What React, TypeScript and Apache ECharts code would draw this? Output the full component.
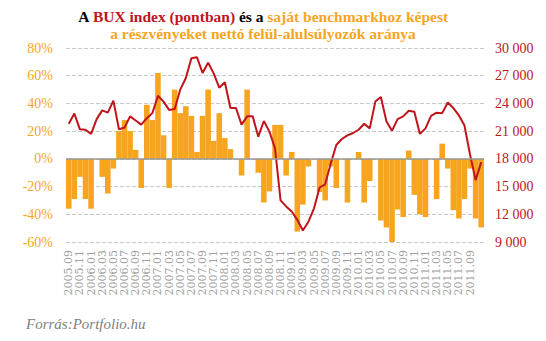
import React, { useEffect, useRef } from "react";
import * as echarts from "echarts";

const categories = [
  "2005.09","2005.10","2005.11","2005.12",
  "2006.01","2006.02","2006.03","2006.04","2006.05","2006.06","2006.07","2006.08","2006.09","2006.10","2006.11","2006.12",
  "2007.01","2007.02","2007.03","2007.04","2007.05","2007.06","2007.07","2007.08","2007.09","2007.10","2007.11","2007.12",
  "2008.01","2008.02","2008.03","2008.04","2008.05","2008.06","2008.07","2008.08","2008.09","2008.10","2008.11","2008.12",
  "2009.01","2009.02","2009.03","2009.04","2009.05","2009.06","2009.07","2009.08","2009.09","2009.10","2009.11","2009.12",
  "2010.01","2010.02","2010.03","2010.04","2010.05","2010.06","2010.07","2010.08","2010.09","2010.10","2010.11","2010.12",
  "2011.01","2011.02","2011.03","2011.04","2011.05","2011.06","2011.07","2011.08","2011.09","2011.10","2011.11",
];

// net over/underweight ratio, %
const netWeight = [
  -36, -29, -13, -29, -36, 0, -13, -25, -7, 20, 28, 20, 6.5, -21, 39,
  28, 62, 17, -21, 50, 33, 38, 31, 5, 31, 50, 13, 33, 15, 7,
  0, -12, 50, 0, -10, -31.5, -23.5, 24.5, 24.5, -12, 5, -52.5, -33, -5.5, 0,
  -24, -30, -5.5, -21, 0, -31.5, 0, 5, -31.5, -16, 0, -44.5, -49.5, -60, -36.5,
  -42, 6, -26, -40, -42, 0, -29, 11, -7, -37, -43, -29, -7, -43, -49.5,
];

// BUX index, points
const bux = [
  21800, 22900, 21200, 21150, 20700, 22300, 23250, 23000, 24300, 21200, 21400, 22600, 22150, 21700, 22400,
  22950, 24830, 24200, 23300, 23400, 25500, 26750, 28900, 29000, 27300, 28400, 27250, 25700, 26300, 23500,
  23500, 21700, 22600, 22600, 20400, 22100, 20950, 19150, 13500, 12850, 12300, 11400, 10250, 11200, 12650,
  14900, 15250, 17500, 19500, 20150, 20550, 20800, 21150, 21800, 21300, 24200, 24700, 22050, 21050, 22300,
  22600, 23200, 23100, 20700, 21300, 22650, 23000, 22950, 24100, 23500, 22700, 21600, 18450, 15700, 17650,
];

const ORANGE = "#F7A51F";
const RED = "#C0141B";
const TF = "bold 15.5px 'Liberation Serif'";

export default function App() {
  const ref = useRef<HTMLDivElement>(null);
  useEffect(() => {
    if (!ref.current) return;
    const chart = echarts.init(ref.current, null, { renderer: "svg" });
    chart.setOption({
      animation: false,
      backgroundColor: "#ffffff",
      grid: { left: 66, right: 62, top: 48, bottom: 99 },
      graphic: [
        {
          type: "text",
          x: 263,
          y: 8,
          style: {
            text:
              "{k|A }{r|BUX index (pontban)}{k| és a }{o|saját benchmarkhoz képest}\n{o|a részvényeket nettó felül-alulsúlyozók aránya}",
            align: "center",
            font: TF,
            lineHeight: 17,
            rich: {
              k: { fill: "#000000", font: TF, lineHeight: 17 },
              r: { fill: RED, font: TF, lineHeight: 17 },
              o: { fill: ORANGE, font: TF, lineHeight: 17 },
            },
          },
        },
        {
          type: "text",
          x: 26,
          y: 316,
          style: {
            text: "Forrás:Portfolio.hu",
            font: "italic 15px 'Liberation Serif'",
            fill: "#7f7f7f",
          },
        },
      ],
      xAxis: {
        type: "category",
        data: categories,
        boundaryGap: true,
        axisLine: { show: false },
        axisTick: { show: false },
        axisLabel: {
          rotate: 90,
          interval: (i: number) => i % 2 === 0 && i < 74,
          color: "#a0a0a0",
          fontFamily: "DejaVu Serif",
          fontSize: 11,
          margin: 8,
        },
        splitLine: { show: false },
      },
      yAxis: [
        {
          type: "value",
          min: -60,
          max: 80,
          interval: 20,
          axisLine: { show: false },
          axisTick: { show: false },
          axisLabel: {
            formatter: (v: number) => `${v}%`,
            color: ORANGE,
            fontFamily: "Liberation Serif",
            fontSize: 14,
            margin: 13,
          },
          splitLine: { lineStyle: { color: "#c8c8c8", type: "dashed", width: 1 } },
        },
        {
          type: "value",
          min: 9000,
          max: 30000,
          interval: 3000,
          axisLine: { show: false },
          axisTick: { show: false },
          axisLabel: {
            formatter: (v: number) =>
              String(v).replace(/\B(?=(\d{3})+(?!\d))/g, " "),
            color: RED,
            fontFamily: "Liberation Serif",
            fontSize: 14,
            margin: 11,
          },
          splitLine: { show: false },
        },
      ],
      series: [
        {
          type: "bar",
          data: netWeight,
          yAxisIndex: 0,
          barCategoryGap: "0%",
          itemStyle: { color: ORANGE },
          markLine: {
            silent: true,
            symbol: "none",
            label: { show: false },
            lineStyle: { color: "#999999", type: "solid", width: 1.5 },
            data: [{ yAxis: 0 }],
          },
        },
        {
          type: "line",
          data: bux,
          yAxisIndex: 1,
          symbol: "none",
          lineStyle: { color: RED, width: 2 },
          itemStyle: { color: RED },
          z: 3,
        },
      ],
    });
    return () => chart.dispose();
  }, []);
  return (
    <div
      ref={ref}
      style={{ position: "fixed", left: 0, top: 0, width: 546, height: 341 }}
    />
  );
}
